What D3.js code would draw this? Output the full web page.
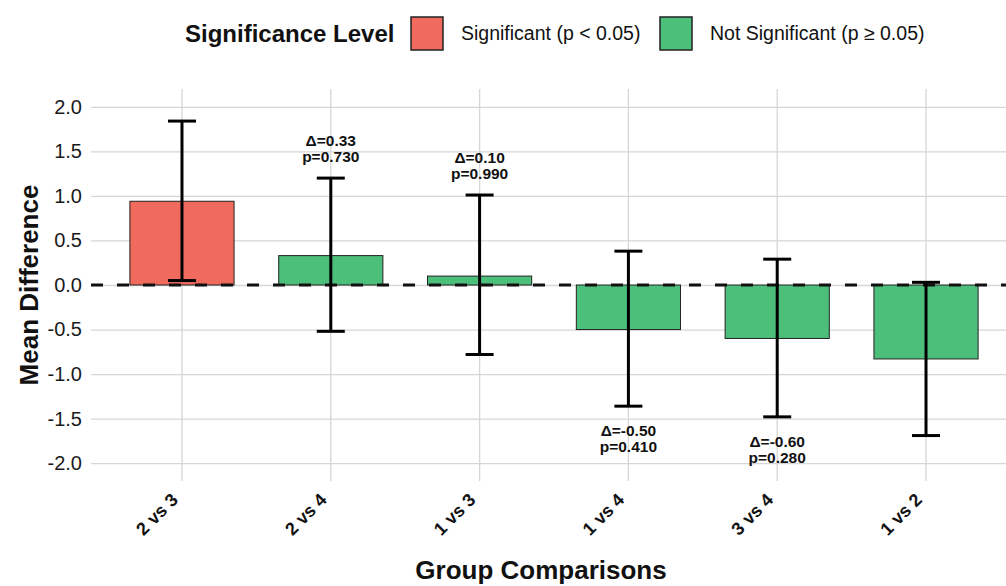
<!DOCTYPE html>
<html>
<head>
    <script src="https://cdn.jsdelivr.net/npm/d3@7"></script>
    <style>
        body { margin: 0; background: #fff; font-family: "Liberation Sans", Arial, sans-serif; }
    </style>
</head>
<body>
    <div id="chart"></div>
    <script>
        // data
        var comparisons = ["2 vs 3", "2 vs 4", "1 vs 3", "1 vs 4", "3 vs 4", "1 vs 2"];
        var meanDiff = [0.94, 0.33, 0.10, -0.50, -0.60, -0.83];
        var ciLower = [0.05, -0.52, -0.78, -1.36, -1.48, -1.69];
        var ciUpper = [1.84, 1.20, 1.01, 0.38, 0.29, 0.03];
        var pValues = [null, 0.730, 0.990, 0.410, 0.280, null];
        var significant = [true, false, false, false, false, false];
        var yTicks = [-2.0, -1.5, -1.0, -0.5, 0.0, 0.5, 1.0, 1.5, 2.0];
        var legendLabels = ["Significant (p < 0.05)", "Not Significant (p \u2265 0.05)"];

        var width = 1006, height = 586;
        var red = "#F06A5D", green = "#4CBF7B";

        var svg = d3.select("#chart").append("svg")
            .attr("width", width).attr("height", height);

        var x = d3.scaleBand().domain(comparisons)
            .range([92.7, 1015.3]).paddingInner(0.3).paddingOuter(0.25);
        var y = d3.scaleLinear().domain([-2.2, 2.2]).range([481, 89]);

        var rows = comparisons.map(function (c, i) {
            return { name: c, mean: meanDiff[i], lo: ciLower[i], hi: ciUpper[i], p: pValues[i], sig: significant[i] };
        });

        // gridlines + tick labels
        var yAxis = svg.append("g").attr("transform", "translate(91,0)")
            .call(d3.axisLeft(y).tickValues(yTicks).tickSize(-(width - 91)).tickPadding(9)
                .tickFormat(function (d) { return d.toFixed(1); }));
        var xAxis = svg.append("g").attr("transform", "translate(0,481)")
            .call(d3.axisBottom(x).tickSize(-392).tickSizeOuter(0));
        svg.selectAll(".domain").remove();
        svg.selectAll(".tick line").attr("stroke", "#d6d6d6").attr("stroke-width", 1.3);
        yAxis.selectAll("text").attr("font-size", 20).attr("fill", "#1a1a1a")
            .attr("font-family", "Liberation Sans, Arial, sans-serif");
        xAxis.selectAll("text")
            .attr("y", 0).attr("dy", null)
            .attr("text-anchor", "end")
            .attr("transform", "translate(-3,20) rotate(-45)")
            .attr("font-size", 18).attr("font-weight", "bold").attr("fill", "#111")
            .attr("font-family", "Liberation Sans, Arial, sans-serif");

        // bars
        svg.selectAll(".bar").data(rows).enter().append("rect")
            .attr("x", function (d) { return x(d.name); })
            .attr("width", x.bandwidth())
            .attr("y", function (d) { return y(Math.max(0, d.mean)); })
            .attr("height", function (d) { return Math.abs(y(d.mean) - y(0)); })
            .attr("fill", function (d) { return d.sig ? red : green; })
            .attr("stroke", "#222").attr("stroke-width", 1);

        // zero line
        svg.append("line")
            .attr("x1", 91).attr("x2", width)
            .attr("y1", y(0)).attr("y2", y(0))
            .attr("stroke", "#111").attr("stroke-width", 3)
            .attr("stroke-dasharray", "12,14");

        // error bars
        var eb = svg.selectAll(".eb").data(rows).enter().append("g")
            .attr("transform", function (d) { return "translate(" + (x(d.name) + x.bandwidth() / 2) + ",0)"; })
            .attr("stroke", "#000").attr("stroke-width", 3);
        eb.append("line").attr("y1", function (d) { return y(d.lo); }).attr("y2", function (d) { return y(d.hi); });
        eb.append("line").attr("x1", -14).attr("x2", 14)
            .attr("y1", function (d) { return y(d.hi); }).attr("y2", function (d) { return y(d.hi); });
        eb.append("line").attr("x1", -14).attr("x2", 14)
            .attr("y1", function (d) { return y(d.lo); }).attr("y2", function (d) { return y(d.lo); });

        // labels (dropped when outside the y limits, like the original)
        var labelled = rows.filter(function (d) {
            d.ly = d.mean >= 0 ? d.hi + 0.35 : d.lo - 0.35;
            return d.p !== null && d.ly >= -2 && d.ly <= 2;
        });
        var lab = svg.selectAll(".lab").data(labelled).enter().append("text")
            .attr("text-anchor", "middle")
            .attr("font-size", 15.5).attr("font-weight", "bold").attr("fill", "#111");
        lab.append("tspan")
            .attr("x", function (d) { return x(d.name) + x.bandwidth() / 2; })
            .attr("y", function (d) { return y(d.ly) - 1; })
            .text(function (d) { return "\u0394=" + d.mean.toFixed(2); });
        lab.append("tspan")
            .attr("x", function (d) { return x(d.name) + x.bandwidth() / 2; })
            .attr("y", function (d) { return y(d.ly) + 15; })
            .text(function (d) { return "p=" + d.p.toFixed(3); });

        // axis titles
        svg.append("text").attr("x", 541).attr("y", 579).attr("text-anchor", "middle")
            .attr("font-size", 26).attr("font-weight", "bold").attr("fill", "#111")
            .text("Group Comparisons");
        svg.append("text").attr("transform", "translate(38,285) rotate(-90)").attr("text-anchor", "middle")
            .attr("font-size", 26).attr("font-weight", "bold").attr("fill", "#111")
            .text("Mean Difference");

        // legend
        var legend = svg.append("g");
        legend.append("text").attr("x", 185).attr("y", 42)
            .attr("font-size", 24).attr("font-weight", "bold").attr("fill", "#111")
            .text("Significance Level");
        var keyX = [411, 660];
        [red, green].forEach(function (col, i) {
            legend.append("rect").attr("x", keyX[i]).attr("y", 17).attr("width", 32).attr("height", 33)
                .attr("fill", col).attr("stroke", "#222").attr("stroke-width", 1.5);
            legend.append("text").attr("x", keyX[i] + 50).attr("y", 40)
                .attr("font-size", 19.5).attr("fill", "#111")
                .text(legendLabels[i]);
        });
    </script>
</body>
</html>
